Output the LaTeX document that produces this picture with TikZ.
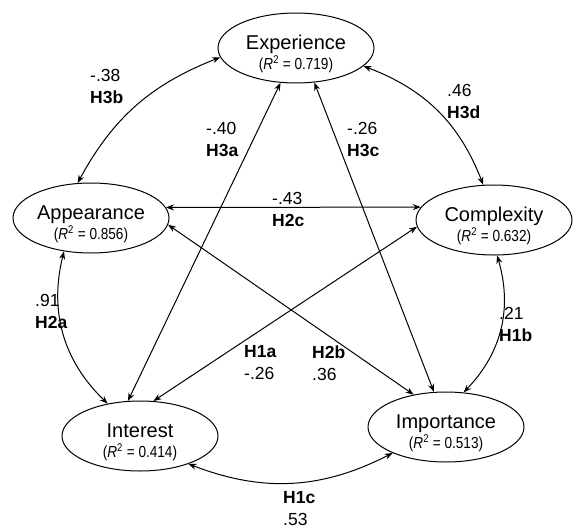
\documentclass[tikz,border=0pt]{standalone}
\usepackage{fontspec}
\setmainfont{Liberation Sans}
\newfontfamily\narrowfont{Liberation Sans}[FakeStretch=0.85]
\usetikzlibrary{arrows.meta,shapes.geometric}

\begin{document}
\begin{tikzpicture}[x=1pt, y=1pt,
  var/.style={ellipse, draw, line width=1pt, minimum width=156pt,
    minimum height=70pt, inner sep=0pt, font=\fontsize{20}{24}\selectfont,
    text height=14pt, text depth=11pt},
  rsq/.style={font=\narrowfont\fontsize{16}{18}\selectfont, inner sep=0pt,
    anchor=base},
  lbl/.style={font=\fontsize{17.5}{22}\selectfont, align=left, anchor=west,
    inner sep=0pt},
  link/.style={{Stealth[length=8pt,width=6pt]}-{Stealth[length=8pt,width=6pt]},
    line width=1pt},
]
\useasboundingbox (0,0) rectangle (573,-530);
% constructs
\node[var] (exp) at (296,-48) {Experience};
\node[var] (app) at (91,-218) {Appearance};
\node[var] (com) at (494,-220) {Complexity};
\node[var] (int) at (140,-436) {Interest};
\node[var] (imp) at (446,-427) {Importance};
% explained variance
\node[rsq] (exp-r) at ([yshift=-21.5pt]exp.center) {(\textit{R}\textsuperscript{2} = 0.719)};
\node[rsq] (app-r) at ([yshift=-21.5pt]app.center) {(\textit{R}\textsuperscript{2} = 0.856)};
\node[rsq] (com-r) at ([yshift=-21.5pt]com.center) {(\textit{R}\textsuperscript{2} = 0.632)};
\node[rsq] (int-r) at ([yshift=-21.5pt]int.center) {(\textit{R}\textsuperscript{2} = 0.414)};
\node[rsq] (imp-r) at ([yshift=-21.5pt]imp.center) {(\textit{R}\textsuperscript{2} = 0.513)};
% outer curved links
\draw[link] (app.111) to[bend left=20] (exp.187);
\draw[link] (exp.-15) to[bend left=24] (com.107);
\draw[link] (app.231) to[bend right=30] (int.135);
\draw[link] (com.-85) to[bend left=30] (imp.63);
\draw[link] (int.-30) to[bend right=24] (imp.206);
% straight links
\draw[link] (app.8) -- (com.170);
\draw[link] (int.109) -- (exp.246);
\draw[link] (exp.-62) -- (imp.109);
\draw[link] (com.185) -- (int.69);
\draw[link] (app.-5) -- (imp.135);
% path labels
\node[lbl] (l-h3b) at (90,-86) {-.38\\\textbf{H3b}};
\node[lbl] (l-h3d) at (447,-101) {.46\\\textbf{H3d}};
\node[lbl] (l-h3a) at (206,-139) {-.40\\\textbf{H3a}};
\node[lbl] (l-h3c) at (347,-139) {-.26\\\textbf{H3c}};
\node[lbl] (l-h2c) at (272,-209) {-.43\\\textbf{H2c}};
\node[lbl] (l-h2a) at (35,-311) {.91\\\textbf{H2a}};
\node[lbl] (l-h1b) at (499,-324) {.21\\\textbf{H1b}};
\node[lbl] (l-h1a) at (244,-363) {\textbf{H1a}\\-.26};
\node[lbl] (l-h2b) at (312,-363) {\textbf{H2b}\\.36};
\node[lbl] (l-h1c) at (283,-509) {\textbf{H1c}\\.53};
\end{tikzpicture}
\end{document}
